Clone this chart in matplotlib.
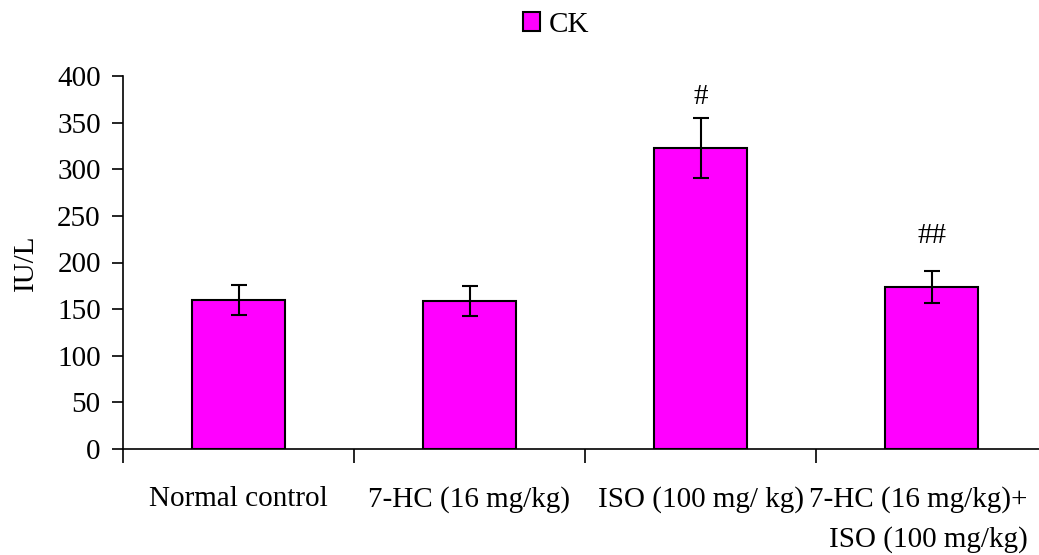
import matplotlib
matplotlib.use("Agg")
import matplotlib.pyplot as plt
import matplotlib.transforms as mtransforms
from matplotlib.patches import Patch

categories = ["Normal control", "7-HC (16 mg/kg)", "ISO (100 mg/ kg)", "7-HC (16 mg/kg)+\nISO (100 mg/kg)"]
ck_values = [160, 159, 323, 174]
ck_errors = [16, 16, 32, 17]
marks = ["", "", "#", "##"]
mark_y = [0, 0, 378, 228]

plt.rcParams['font.family'] = ['Liberation Serif', 'DejaVu Serif']
FS = 21

fig = plt.figure(figsize=(10.39, 5.55), dpi=100)
ax = fig.add_axes([123/1039, 1-449/555, 924/1039, 373/555])

x = list(range(len(categories)))
ax.bar(x, ck_values, width=0.4, color='#FF00FF', edgecolor='black', linewidth=1.5,
       yerr=ck_errors, capsize=6, error_kw=dict(elinewidth=1.5, capthick=1.5, ecolor='black'),
       zorder=2)
for xi, m, my in zip(x, marks, mark_y):
    if m:
        ax.text(xi, my, m, ha='center', va='center', fontsize=FS)

ax.set_xlim(-0.5, 3.5)
ax.set_ylim(0, 400)
ax.set_yticks(range(0, 401, 50))
ax.tick_params(axis='y', direction='out', length=8, width=1.2, labelsize=FS, pad=8)
ax.set_xticks([-0.5, 0.5, 1.5, 2.5, 3.5])
ax.set_xticklabels([])
ax.set_xticks(x, minor=True)
ax.set_xticklabels(categories, minor=True, fontsize=FS)
ax.tick_params(axis='x', which='major', direction='out', length=10, width=1.2)
ax.tick_params(axis='x', which='minor', length=0, pad=27)
last = ax.get_xticklabels(minor=True)[3]
last.set_multialignment('right')
last.set_linespacing(1.6)
shift = mtransforms.ScaledTranslation(-13/100, 0, fig.dpi_scale_trans)
last.set_transform(last.get_transform() + shift)
for s in ['top', 'right']:
    ax.spines[s].set_visible(False)
ax.spines['left'].set_linewidth(1.2)
ax.spines['bottom'].set_linewidth(1.2)
ax.set_ylabel("IU/L", fontsize=FS, labelpad=13)

fig.legend(handles=[Patch(facecolor='#FF00FF', edgecolor='black', linewidth=1.5, label='CK')],
           loc='center', bbox_to_anchor=(556/1039, 1-25/555), frameon=False, fontsize=FS,
           handlelength=0.6, handleheight=0.6, handletextpad=0.3)

fig.savefig("out.png", dpi=100)
